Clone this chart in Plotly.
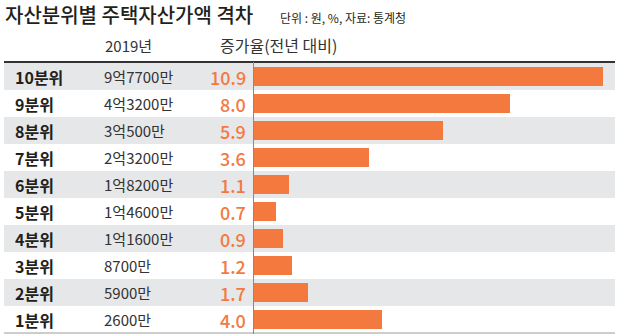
import plotly.graph_objects as go

# Data (top row first)
groups = ["10분위", "9분위", "8분위", "7분위", "6분위", "5분위", "4분위", "3분위", "2분위", "1분위"]
assets_2019 = ["9억7700만", "4억3200만", "3억500만", "2억3200만", "1억8200만",
               "1억4600만", "1억1600만", "8700만", "5900만", "2600만"]
growth = [10.9, 8.0, 5.9, 3.6, 1.1, 0.7, 0.9, 1.2, 1.7, 4.0]

title = "자산분위별 주택자산가액 격차"
note = "단위 : 원, %, 자료: 통계청"
col_year = "2019년"
col_growth = "증가율(전년 대비)"

W, H = 620, 334
ORANGE = "#f4793f"
BAND = "#e6e7e8"
DARK = "#231f20"
KR = "Noto Sans CJK KR"


def px(x):
    return x / W


def py(y):
    return 1 - y / H


fig = go.Figure()
fig.add_trace(go.Bar(
    x=growth, y=groups, orientation="h",
    marker=dict(color=ORANGE, line=dict(width=0)),
    width=0.74, hoverinfo="skip",
))

shapes = []
# alternating row bands
for i, g in enumerate(groups):
    if i % 2 == 0:
        shapes.append(dict(type="rect", xref="paper", yref="y",
                           x0=px(4), x1=px(615), y0=i - 0.5, y1=i + 0.5,
                           fillcolor=BAND, line=dict(width=0), layer="below"))
# rules
shapes.append(dict(type="line", xref="paper", yref="paper", x0=px(4), x1=px(615),
                   y0=py(62), y1=py(62), line=dict(color="#333333", width=2)))
shapes.append(dict(type="line", xref="paper", yref="paper", x0=px(4), x1=px(615),
                   y0=py(333), y1=py(333), line=dict(color="#9a9a9a", width=1)))
shapes.append(dict(type="line", xref="paper", yref="paper", x0=px(253.5), x1=px(253.5),
                   y0=py(62), y1=py(334), line=dict(color="#8a8a8a", width=1)))

ann = []
ann.append(dict(text=title, xref="paper", yref="paper", x=px(3), y=py(15),
                xanchor="left", yanchor="middle", showarrow=False,
                font=dict(family=KR, size=20, color=DARK, weight=500)))
ann.append(dict(text=note, xref="paper", yref="paper", x=px(278), y=py(17),
                xanchor="left", yanchor="middle", showarrow=False,
                font=dict(family=KR, size=12, color=DARK)))
ann.append(dict(text=col_year, xref="paper", yref="paper", x=px(103), y=py(45),
                xanchor="left", yanchor="middle", showarrow=False,
                font=dict(family=KR, size=15, color="#333333")))
ann.append(dict(text=col_growth, xref="paper", yref="paper", x=px(218), y=py(45),
                xanchor="left", yanchor="middle", showarrow=False,
                font=dict(family=KR, size=16, color="#333333")))

for g, a, v in zip(groups, assets_2019, growth):
    ann.append(dict(text=f"<b>{g}</b>", xref="paper", yref="y", x=px(13), y=g,
                    xanchor="left", yanchor="middle", showarrow=False,
                    font=dict(family=KR, size=16, color=DARK)))
    ann.append(dict(text=a, xref="paper", yref="y", x=px(102), y=g,
                    xanchor="left", yanchor="middle", showarrow=False,
                    font=dict(family=KR, size=15, color="#333333")))
    ann.append(dict(text=f"{v:.1f}", xref="paper", yref="y", x=px(248), y=g,
                    xanchor="right", yanchor="middle", showarrow=False,
                    font=dict(family=KR, size=18, color=ORANGE, weight=500)))

fig.update_layout(
    width=W, height=H,
    margin=dict(l=0, r=0, t=0, b=0),
    paper_bgcolor="white", plot_bgcolor="rgba(0,0,0,0)",
    showlegend=False,
    shapes=shapes, annotations=ann,
    xaxis=dict(domain=[px(254), 1], range=[0, (W - 254) / 32.0],
               visible=False, fixedrange=True),
    yaxis=dict(domain=[py(333), py(63)], range=[9.5, -0.5],
               type="category", categoryorder="array", categoryarray=groups,
               visible=False, fixedrange=True),
    bargap=0,
)

fig.write_html("out.html")
